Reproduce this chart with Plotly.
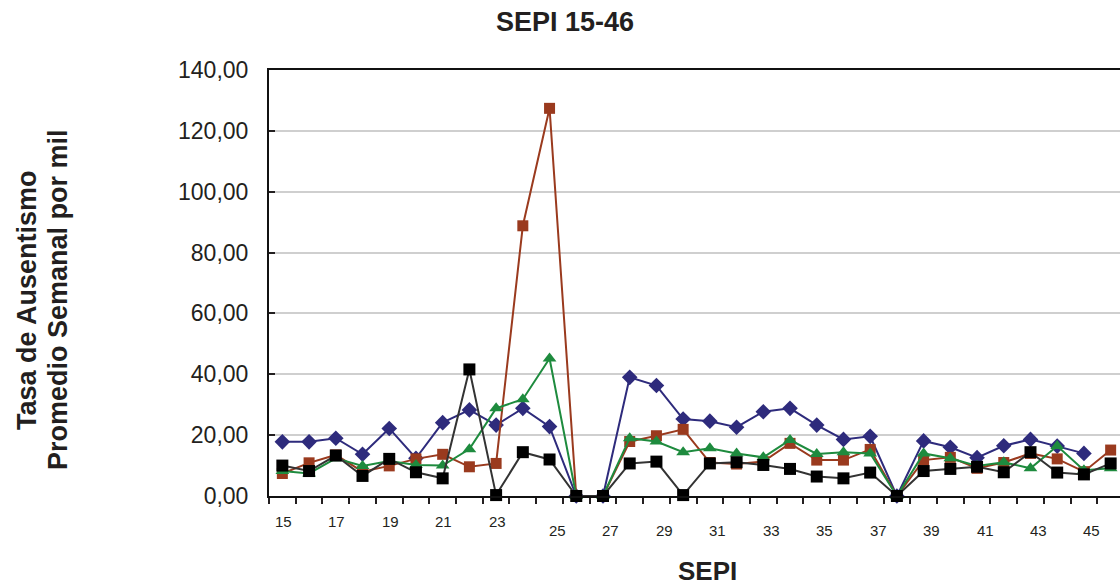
import plotly.graph_objects as go

sepi = list(range(15, 47))

serie_azul = [17.8, 17.8, 19.0, 13.7, 22.2, 12.4, 24.1, 28.3, 23.3, 28.8, 22.8, 0.0, 0.0,
              39.0, 36.3, 25.3, 24.6, 22.6, 27.7, 28.8, 23.3, 18.6, 19.6, 0.0,
              18.1, 16.0, 12.6, 16.5, 18.6, 16.4, 14.0, None]
serie_cafe = [7.4, 10.9, 13.5, 8.0, 9.9, 12.2, 13.7, 9.6, 10.7, 88.8, 127.4, 0.0, 0.0,
              17.9, 19.8, 21.9, 11.0, 10.5, 11.3, 17.3, 11.8, 11.8, 15.3, 0.0,
              11.8, 12.7, 9.1, 11.0, 14.0, 12.2, 8.0, 15.1]
serie_verde = [8.2, 7.4, 12.4, 9.9, 11.5, 10.2, 10.0, 15.4, 28.8, 31.8, 45.2, 0.0, 0.0,
               19.0, 17.9, 14.4, 15.7, 14.0, 12.7, 18.4, 13.8, 14.4, 14.0, 0.0,
               14.0, 12.4, 9.9, 11.1, 9.1, 16.4, 8.5, 9.1]
serie_negra = [10.0, 8.2, 13.3, 6.6, 12.2, 7.8, 5.8, 41.6, 0.3, 14.4, 12.0, 0.0, 0.0,
               10.7, 11.3, 0.3, 10.7, 11.1, 10.2, 8.9, 6.4, 5.8, 7.7, 0.0,
               8.2, 8.9, 9.6, 7.8, 14.4, 7.7, 7.1, 10.7]

y_ticks = [0, 20, 40, 60, 80, 100, 120, 140]
y_tick_text = ["0,00", "20,00", "40,00", "60,00", "80,00", "100,00", "120,00", "140,00"]
x_tick_labels = list(range(15, 46, 2))

FONT = "Liberation Sans, Arial, sans-serif"

fig = go.Figure()
series = [
    (serie_azul, "#2E2B7C", "#2E2B7C", "diamond", 12),
    (serie_cafe, "#9A3A1E", "#9A3A1E", "square", 11),
    (serie_verde, "#1E8B3E", "#1E8B3E", "triangle-up", 12),
    (serie_negra, "#333333", "#000000", "square", 12),
]
for vals, lc, mc, sym, sz in series:
    fig.add_trace(go.Scatter(
        x=sepi, y=vals, mode="lines+markers",
        line=dict(color=lc, width=2),
        marker=dict(symbol=sym, size=sz, color=mc, line=dict(width=0)),
        showlegend=False, cliponaxis=False,
    ))

boundaries = [s - 0.5 for s in sepi] + [sepi[-1] + 0.5]

fig.update_layout(
    width=1120, height=588,
    margin=dict(l=269, r=0, t=70, b=92),
    paper_bgcolor="white", plot_bgcolor="white",
    font=dict(family=FONT, color="#231F20"),
    title=dict(text="<b>SEPI 15-46</b>", x=565 / 1120, xref="container", xanchor="center",
               y=1 - 22 / 588, yref="container", yanchor="middle",
               font=dict(size=27, family=FONT, color="#231F20")),
    xaxis=dict(range=[14.5, 46.35], tickmode="array", tickvals=boundaries,
               showticklabels=False, ticks="outside", ticklen=6, tickwidth=1.5,
               tickcolor="#231F20", showline=True, linecolor="#111111", linewidth=2,
               mirror=True, showgrid=False, zeroline=False),
    yaxis=dict(range=[0, 140], tickmode="array", tickvals=y_ticks, ticktext=y_tick_text,
               ticks="inside", ticklen=6, tickwidth=1.5, tickcolor="#231F20",
               ticklabelstandoff=14,
               tickfont=dict(size=23, family=FONT, color="#231F20"),
               showline=True, linecolor="#111111", linewidth=2,
               showgrid=True, gridcolor="#CFCFCF", gridwidth=1.5, zeroline=False),
)

for lab in x_tick_labels:
    late = lab >= 25
    fig.add_annotation(x=lab, y=0, xref="x", yref="paper", text=str(lab),
                       showarrow=False, xanchor="center", yanchor="middle",
                       xshift=8 if late else 1, yshift=-34.5 if late else -25,
                       font=dict(size=15, family=FONT, color="#231F20"))

fig.add_annotation(x=(707 - 269) / 851, y=0, xref="paper", yref="paper",
                   text="<b>SEPI</b>", showarrow=False, xanchor="center",
                   yanchor="middle", yshift=-75,
                   font=dict(size=26, family=FONT, color="#231F20"))

for txt, px in [("Tasa de Ausentismo", 27), ("Promedio Semanal por mil", 58)]:
    fig.add_annotation(x=(px - 269) / 851, y=(496 - 300) / 426, xref="paper", yref="paper",
                       text="<b>" + txt + "</b>", showarrow=False, textangle=-90,
                       xanchor="center", yanchor="middle",
                       font=dict(size=27, family=FONT, color="#231F20"))

fig.write_html("out.html")
